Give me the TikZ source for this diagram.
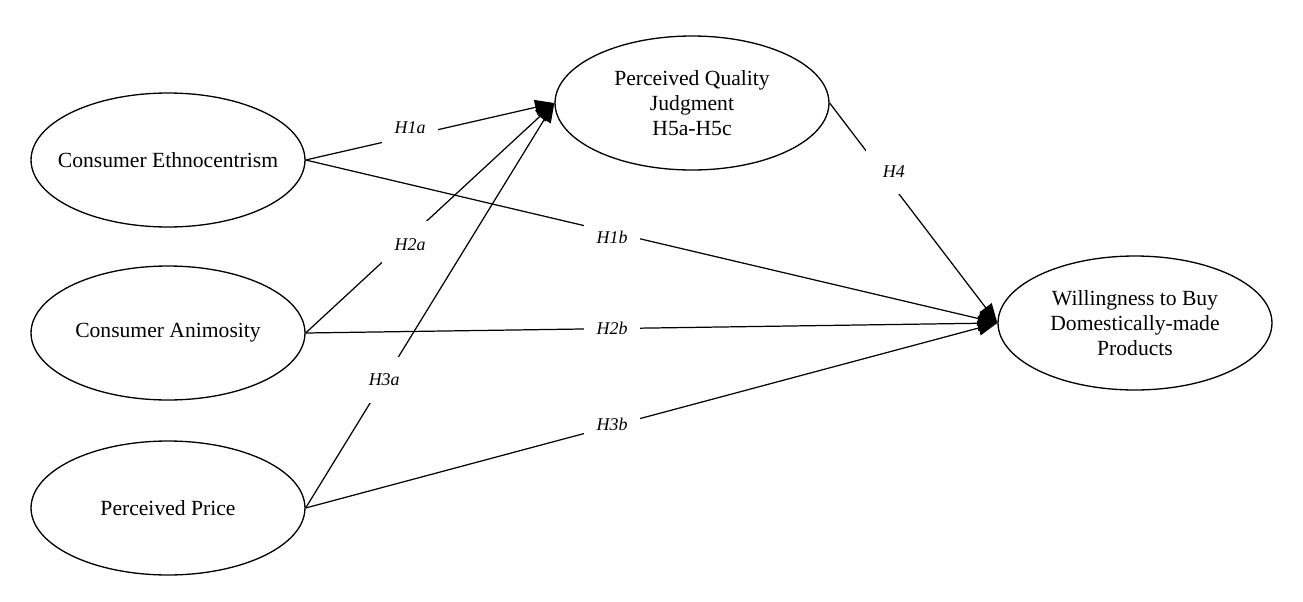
\documentclass[tikz,border=0pt]{standalone}
\usepackage{fontspec}
\setmainfont{Liberation Serif}
\usetikzlibrary{shapes.geometric,arrows.meta}
\begin{document}
\begin{tikzpicture}[x=0.02cm,y=-0.02cm,
  latent/.style={ellipse, draw, line width=0.75pt, minimum width=5.48cm, minimum height=2.68cm,
    inner sep=0pt, align=center, font=\fontsize{12.3}{14.2}\selectfont},
  hpath/.style={line width=0.7pt, -{Triangle[length=11pt,width=8.5pt]}},
  lbl/.style={fill=white, inner sep=0pt, minimum width=31.7pt, minimum height=26pt,
    font=\fontsize{10.2}{12}\selectfont\itshape}]
\useasboundingbox (0,0) rectangle (1303,602);
\node[latent] (CE) at (168,160) {\makebox[2.5cm][c]{Consumer Ethnocentrism}};
\node[latent] (CA) at (168,333) {Consumer Animosity};
\node[latent] (PP) at (168,508) {Perceived Price};
\node[latent] (PQ) at (692,103) {Perceived Quality\\Judgment\\H5a-H5c};
\node[latent] (WB) at (1135,323) {Willingness to Buy\\Domestically-made\\Products};

\draw[hpath] (CE.east) -- node[lbl, pos=0.42, yshift=4.5pt] (l1a) {H1a} (PQ.west);
\draw[hpath] (CE.east) -- node[lbl, pos=0.443, yshift=-2.8pt] (l1b) {H1b} (WB.west);
\draw[hpath] (CA.east) -- node[lbl, pos=0.42, yshift=-4.5pt] (l2a) {H2a} (PQ.west);
\draw[hpath] (CA.east) -- node[lbl, pos=0.443] (l2b) {H2b} (WB.west);
\draw[hpath] (PP.east) -- node[lbl, pos=0.316] (l3a) {H3a} (PQ.west);
\draw[hpath] (PP.east) -- node[lbl, pos=0.443, yshift=1.1pt] (l3b) {H3b} (WB.west);
\draw[hpath] (PQ.east) -- node[lbl, pos=0.312, xshift=6.8pt] (l4) {H4} (WB.west);
\end{tikzpicture}
\end{document}
